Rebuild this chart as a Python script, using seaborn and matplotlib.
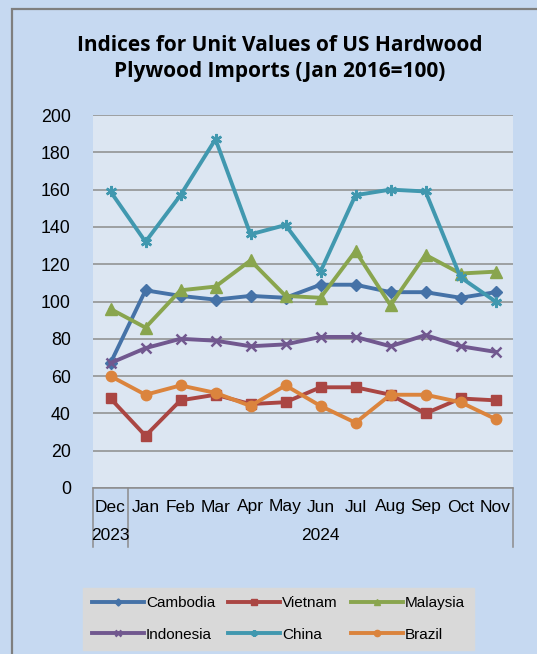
import matplotlib
matplotlib.use("Agg")
import matplotlib.pyplot as plt
import matplotlib.transforms as mtransforms
from matplotlib.patches import Rectangle
from matplotlib.lines import Line2D
import seaborn as sns
import pandas as pd

months = ["Dec", "Jan", "Feb", "Mar", "Apr", "May", "Jun", "Jul", "Aug", "Sep", "Oct", "Nov"]
years = ["2023", "2024"]
cambodia = [67, 106, 103, 101, 103, 102, 109, 109, 105, 105, 102, 105]
vietnam = [48, 28, 47, 50, 45, 46, 54, 54, 50, 40, 48, 47]
malaysia = [96, 86, 106, 108, 122, 103, 102, 127, 98, 125, 115, 116]
indonesia = [67, 75, 80, 79, 76, 77, 81, 81, 76, 82, 76, 73]
china = [159, 132, 157, 187, 136, 141, 116, 157, 160, 159, 113, 100]
brazil = [60, 50, 55, 51, 44, 55, 44, 35, 50, 50, 46, 37]
series_names = ["Cambodia", "Vietnam", "Malaysia", "Indonesia", "China", "Brazil"]
series_vals = [cambodia, vietnam, malaysia, indonesia, china, brazil]
colors = ["#4572A7", "#AA4643", "#89A54E", "#71588F", "#4198AF", "#DB843D"]
markers = ["D", "s", "^", "x", (6, 2, 0), "o"]
msizes = [6, 7, 8, 7, 8, 7.5]

plt.rcParams["font.family"] = ["Liberation Sans", "DejaVu Sans"]

W, H = 537, 654
fig = plt.figure(figsize=(W / 100, H / 100), dpi=100)
fig.patch.set_facecolor("#C6D9F1")
# outer border (top/left visible)
fig.patches.append(Rectangle((12 / W, -0.1), 1.2, 1 - 9 / H + 0.1, transform=fig.transFigure,
                             facecolor="none", edgecolor="#7F7F7F", linewidth=1.6))

x0, x1, yt, yb = 93, 513, 115, 488
ax = fig.add_axes([x0 / W, 1 - yb / H, (x1 - x0) / W, (yb - yt) / H])
ax.set_facecolor("#DCE6F2")

xs = list(range(len(months)))
for name, vals, c, m, ms in zip(series_names, series_vals, colors, markers, msizes):
    df = pd.DataFrame({"x": xs, "y": vals})
    sns.lineplot(data=df, x="x", y="y", ax=ax, color=c, linewidth=2.8, marker=m,
                 markersize=ms, markeredgecolor=c, markeredgewidth=1.8 if m in ("x", (6, 2, 0)) else 1,
                 label=name, legend=False)

ax.set_xlim(-0.5, len(months) - 0.5)
ax.set_ylim(0, 200)
ax.set_yticks(range(0, 201, 20))
ax.yaxis.grid(True, color="#8C8C8C", linewidth=1.1)
ax.set_axisbelow(True)
ax.set_xticks([])
ax.tick_params(axis="y", length=0, pad=16, labelsize=12.8, labelcolor="#000000")
ax.set_xlabel("")
ax.set_ylabel("")
for s in ["top", "right", "left"]:
    ax.spines[s].set_visible(False)
ax.spines["bottom"].set_color("#8C8C8C")
ax.spines["bottom"].set_linewidth(1.1)

trans = mtransforms.blended_transform_factory(ax.transData, ax.transAxes)
ah = yb - yt
for i, mth in enumerate(months):
    ax.text(i, -19 / ah, mth, transform=trans, ha="center", va="center", fontsize=12.5)
ax.text(0, -48 / ah, years[0], transform=trans, ha="center", va="center", fontsize=12.5)
ax.text((1 + len(months) - 1) / 2, -48 / ah, years[1], transform=trans, ha="center", va="center", fontsize=12.5)
for xv in [-0.5, 0.5, len(months) - 0.5]:
    ax.add_line(Line2D([xv, xv], [0, -59 / ah], transform=trans, color="#8C8C8C", linewidth=1.1, clip_on=False))

fig.text(280 / W, 1 - 58.5 / H, "Indices for Unit Values of US Hardwood\nPlywood Imports (Jan 2016=100)",
         ha="center", va="center", fontsize=15, fontweight="bold", family=["Open Sans", "DejaVu Sans"],
         linespacing=1.3)

handles, labels = ax.get_legend_handles_labels()
order = [0, 3, 1, 4, 2, 5]
leg = fig.legend([handles[i] for i in order], [labels[i] for i in order], loc="center", ncol=3,
                 bbox_to_anchor=((84 + 473) / 2 / W, 1 - (588 + 650) / 2 / H),
                 fontsize=11, frameon=True, fancybox=False, handlelength=3.4, handletextpad=0.15,
                 columnspacing=0.85, labelspacing=1.15, markerscale=0.6, borderpad=0.55)
leg.get_frame().set_facecolor("#D9D9D9")
leg.get_frame().set_edgecolor("#D9D9D9")
leg.get_frame().set_alpha(1)

fig.savefig("out.png", dpi=100, facecolor=fig.get_facecolor())
